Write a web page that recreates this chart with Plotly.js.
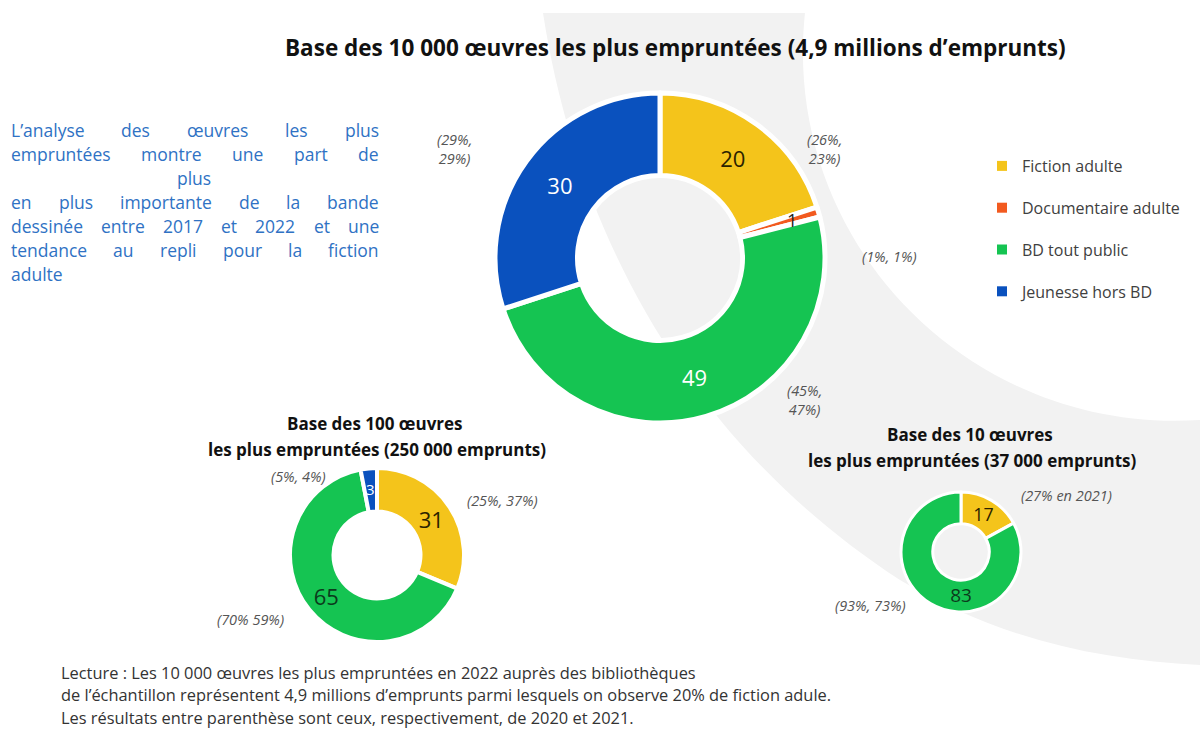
<!DOCTYPE html>
<html>
<head>
<meta charset="utf-8">
<script src="https://cdn.plot.ly/plotly-3.0.1.min.js"></script>
<style>html,body{margin:0;padding:0;background:#fff;}#chart{width:1200px;height:730px;}</style>
</head>
<body>
<div id="chart"></div>
<script>
// ---------- data ----------
const categories = ['Fiction adulte', 'Documentaire adulte', 'BD tout public', 'Jeunesse hors BD'];

const mainLabels = ['Fiction adulte', 'Documentaire adulte', 'BD tout public', 'Jeunesse hors BD'];
const mainValues = [20, 1, 49, 30];
const mainPrev = ['(26%,<br>23%)', '(1%, 1%)', '(45%,<br>47%)', '(29%,<br>29%)'];

const top100Labels = ['Fiction adulte', 'BD tout public', 'Jeunesse hors BD'];
const top100Values = [31, 65, 3];
const top100Prev = ['(25%, 37%)', '(70% 59%)', '(5%, 4%)'];

const top10Labels = ['Fiction adulte', 'BD tout public'];
const top10Values = [17, 83];
const top10Prev = ['(27% en 2021)', '(93%, 73%)'];

const mainTitle = 'Base des 10 000 œuvres les plus empruntées (4,9 millions d’emprunts)';
const top100Title = ['Base des 100 œuvres', 'les plus empruntées (250 000 emprunts)'];
const top10Title = ['Base des 10 œuvres', 'les plus empruntées (37 000 emprunts)'];

const sideText = [
  'L’analyse des œuvres les plus',
  'empruntées montre une part de',
  'plus',
  'en plus importante de la bande',
  'dessinée entre 2017 et 2022 et une',
  'tendance au repli pour la fiction',
  'adulte'
];
const footerLines = [
  'Lecture : Les 10 000 œuvres les plus empruntées en 2022 auprès des bibliothèques',
  'de l’échantillon représentent 4,9 millions d’emprunts parmi lesquels on observe 20% de fiction adule.',
  'Les résultats entre parenthèse sont ceux, respectivement, de 2020 et 2021.'
];

// ---------- styles ----------
const W = 1200, H = 730;
const FONT = 'Open Sans, Noto Sans, sans-serif';
const colorOf = {
  'Fiction adulte': '#F4C41B',
  'Documentaire adulte': '#F25A1F',
  'BD tout public': '#15C452',
  'Jeunesse hors BD': '#0A51BE'
};
const textColorOf = {
  'Fiction adulte': '#2a2200',
  'Documentaire adulte': '#222',
  'BD tout public': '#ffffff',
  'Jeunesse hors BD': '#ffffff'
};
const px = x => x / W;
const py = y => 1 - y / H;

// donut geometry (pixels)
const G = {
  main: {cx: 660, cy: 258, r: 165, hole: 0.5, line: 5, fs: 22},
  t100: {cx: 377, cy: 555, r: 87, hole: 0.5, line: 4, fs: 22},
  t10: {cx: 961, cy: 552, r: 60, hole: 0.47, line: 3, fs: 19}
};

function donut(labels, values, g, tcolors) {
  return {
    type: 'pie', labels: labels, values: values, hole: g.hole,
    sort: false, direction: 'clockwise', rotation: 0,
    domain: {x: [px(g.cx - g.r), px(g.cx + g.r)], y: [py(g.cy + g.r), py(g.cy - g.r)]},
    marker: {colors: labels.map(l => colorOf[l]), line: {color: '#ffffff', width: g.line}},
    text: values.map(v => v >= 5 ? String(v) : ''),
    textinfo: 'text', textposition: 'inside', insidetextorientation: 'horizontal',
    textfont: {family: FONT, size: g.fs, color: tcolors || labels.map(l => textColorOf[l])},
    showlegend: false, hoverinfo: 'skip'
  };
}

const traces = [
  donut(mainLabels, mainValues, G.main),
  donut(top100Labels, top100Values, G.t100, ['#2a2200', '#0b3b1c', '#ffffff']),
  donut(top10Labels, top10Values, G.t10, ['#2a2200', '#0b3b1c'])
];
// legend entries
categories.forEach((c, i) => {
  traces.push({
    type: 'scatter', x: [null], y: [null], mode: 'markers', name: c,
    legendgroup: 'g' + i,
    marker: {symbol: 'square', size: 10, color: colorOf[c]},
    hoverinfo: 'skip'
  });
});

const ann = [];
function addText(text, x, y, opt) {
  ann.push(Object.assign({
    text: text, x: px(x), y: py(y), xref: 'paper', yref: 'paper',
    showarrow: false, xanchor: 'center', yanchor: 'middle', borderpad: 0,
    font: {family: FONT, size: 12, color: '#333'}
  }, opt || {}));
}

// small-slice value labels placed at slice mid-angle
function smallLabel(values, idx, g, rf, fs, color) {
  const total = values.reduce((a, b) => a + b, 0);
  let cum = 0;
  for (let i = 0; i < idx; i++) cum += values[i];
  const a = (cum + values[idx] / 2) / total * 2 * Math.PI;
  const r = g.r * rf;
  addText(String(values[idx]), g.cx + r * Math.sin(a), g.cy - r * Math.cos(a),
    {font: {family: FONT, size: fs, color: color}});
}
smallLabel(mainValues, 1, G.main, 0.83, 18, '#222');
smallLabel(top100Values, 2, G.t100, 0.76, 15, '#ffffff');

// titles
const titleFont = {family: FONT, size: 22.5, color: '#111'};
const subFont = {family: FONT, size: 17, color: '#111'};
addText('<b>' + mainTitle + '</b>', 675, 47, {font: titleFont});
addText('<b>' + top100Title[0] + '</b>', 375, 423, {font: subFont});
addText('<b>' + top100Title[1] + '</b>', 377, 449, {font: subFont});
addText('<b>' + top10Title[0] + '</b>', 970, 434, {font: subFont});
addText('<b>' + top10Title[1] + '</b>', 972, 460, {font: subFont});

// previous-year annotations
const it = {family: FONT, size: 14.5, color: '#555'};
function prev(t, x, y, xa) { addText('<i>' + t + '</i>', x, y, {font: it, xanchor: xa || 'center'}); }
prev(mainPrev[3], 473, 149, 'right');
prev(mainPrev[0], 806, 149, 'left');
prev(mainPrev[1], 889, 256);
prev(mainPrev[2], 786, 400, 'left');
prev(top100Prev[2], 298, 476);
prev(top100Prev[0], 502, 500);
prev(top100Prev[1], 250, 619);
prev(top10Prev[0], 1066, 495);
prev(top10Prev[1], 870, 605);

// justified side paragraph
const SIDE_FAMILY = 'Open Sans';
const SIDE_FS = 17.5;
const sideX0 = 10, sideX1 = 378, sideY0 = 130, sideDY = 24;
const canvas = document.createElement('canvas');
const ctx = canvas.getContext('2d');
ctx.font = SIDE_FS + 'px "' + SIDE_FAMILY + '"';
const sideFont = {family: SIDE_FAMILY, size: SIDE_FS, color: '#2F72C4'};
sideText.forEach((line, li) => {
  const y = sideY0 + li * sideDY;
  if (li === 2) { addText(line, (sideX0 + sideX1) / 2, y, {font: sideFont}); return; }
  if (li === sideText.length - 1) { addText(line, sideX0, y, {font: sideFont, xanchor: 'left'}); return; }
  const words = line.split(' ');
  const ws = words.map(w => ctx.measureText(w).width);
  const sum = ws.reduce((a, b) => a + b, 0);
  const gap = (sideX1 - sideX0 - sum) / (words.length - 1);
  let x = sideX0;
  words.forEach((w, i) => {
    addText(w, x, y, {font: sideFont, xanchor: 'left'});
    x += ws[i] + gap;
  });
});

// footer
footerLines.forEach((l, i) => addText(l, 60, 672 + i * 22.5, {font: {family: FONT, size: 16.4, color: '#333'}, xanchor: 'left'}));

// background crescent band
function P(x, y) { return px(x).toFixed(4) + ',' + py(y).toFixed(4); }
const bandPath = 'M' + P(543, 13) + ' L' + P(805, 13) +
  ' C' + P(781, 242) + ' ' + P(970, 435) + ' ' + P(1200, 420) +
  ' L' + P(1200, 665) +
  ' C' + P(1100, 660) + ' ' + P(1000, 640) + ' ' + P(900, 580) +
  ' C' + P(700, 450) + ' ' + P(580, 250) + ' ' + P(543, 13) + ' Z';

const layout = {
  width: W, height: H,
  margin: {l: 0, r: 0, t: 0, b: 0},
  paper_bgcolor: '#ffffff', plot_bgcolor: 'rgba(0,0,0,0)',
  xaxis: {visible: false}, yaxis: {visible: false},
  showlegend: true,
  legend: {
    x: px(982), y: py(149), xanchor: 'left', yanchor: 'top',
    bgcolor: 'rgba(0,0,0,0)', traceorder: 'grouped', tracegroupgap: 18,
    font: {family: FONT, size: 16, color: '#404040'}, itemclick: false
  },
  shapes: [{type: 'path', xref: 'paper', yref: 'paper', path: bandPath,
    fillcolor: '#f2f2f2', line: {width: 0}, layer: 'below'}],
  annotations: ann
};

Plotly.newPlot('chart', traces, layout, {staticPlot: true, displayModeBar: false});
</script>
</body>
</html>
